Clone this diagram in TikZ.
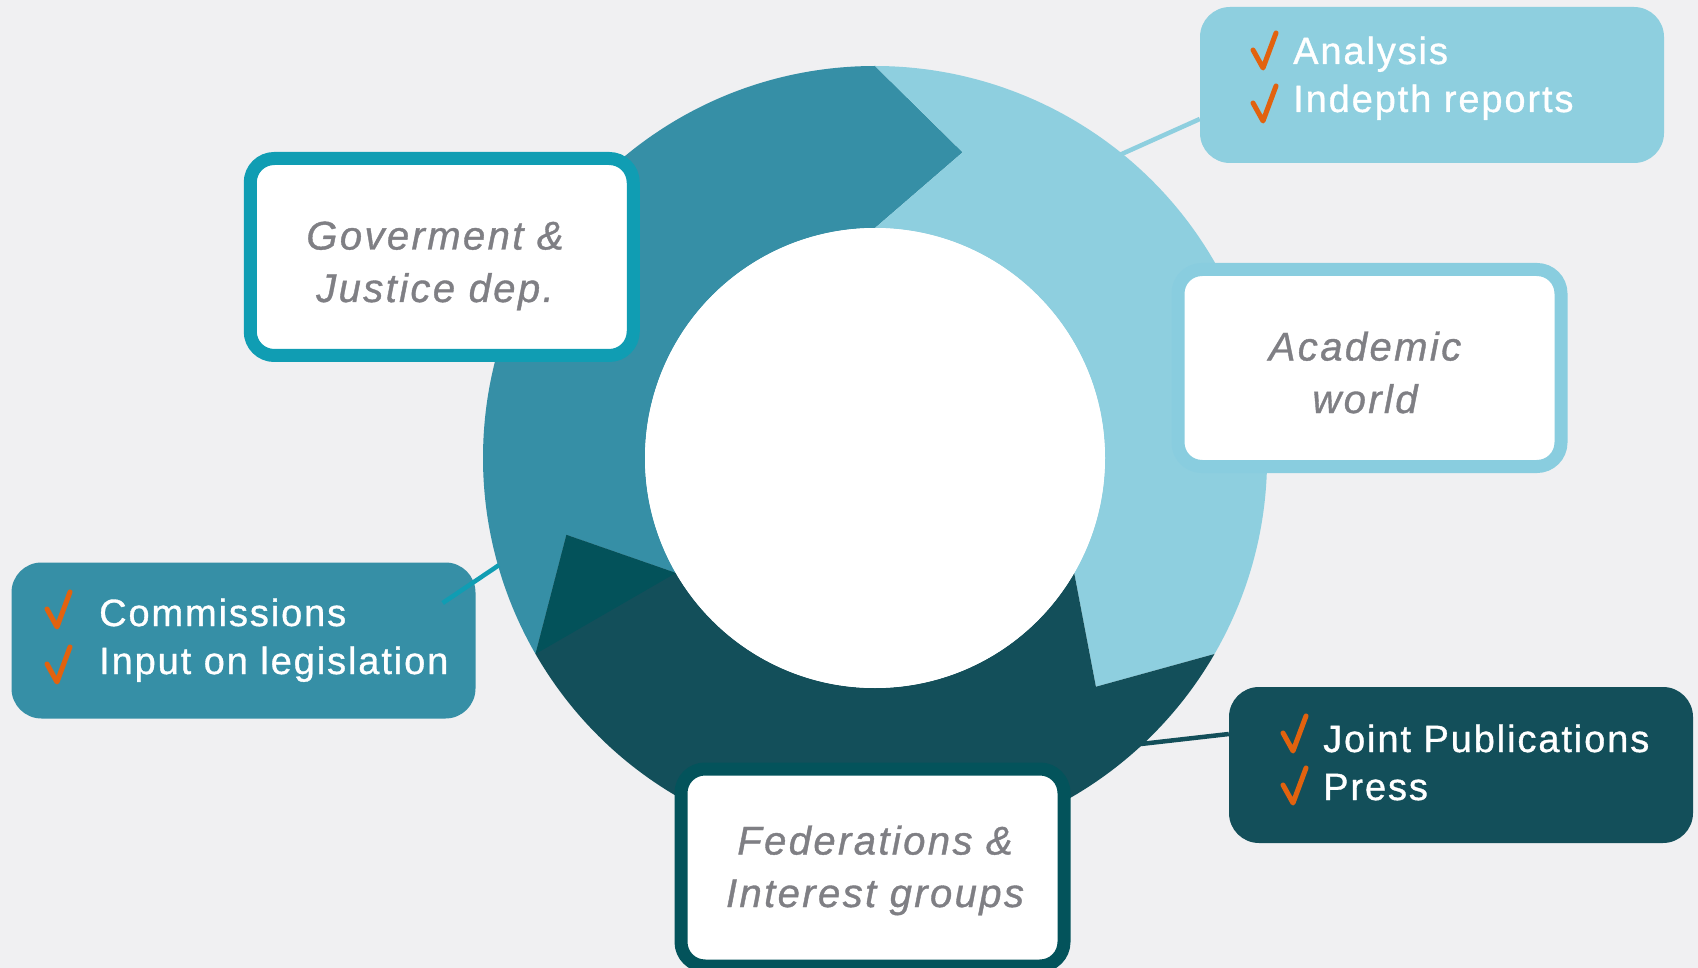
\documentclass[tikz,border=0pt]{standalone}
\usepackage{fontspec}
\setmainfont{Liberation Sans}
\newfontfamily\calloutfont[LetterSpace=5.0, FakeBold=0.9]{Liberation Sans}
\newfontfamily\labelfont[LetterSpace=6.0, FakeBold=0.9]{Liberation Sans}
\usetikzlibrary{calc}

\definecolor{bgc}{HTML}{F0F0F2}
\definecolor{ringmid}{HTML}{368FA6}
\definecolor{ringlight}{HTML}{8ECFDF}
\definecolor{ringdark}{HTML}{134F5A}
\definecolor{ringtip}{HTML}{03525A}
\definecolor{govline}{HTML}{109DB3}
\definecolor{acadline}{HTML}{89CDDF}
\definecolor{fedline}{HTML}{03535B}
\definecolor{labelgray}{HTML}{7F7F84}
\definecolor{tickorange}{HTML}{E2620E}

\tikzset{
  partybox/.style={draw, line width=13pt, fill=white, rounded corners=24pt,
    minimum width=383pt, minimum height=197pt, inner sep=0pt},
  % the base anchor of a two-line label sits on its last line
  partylabel/.style={text=labelgray, align=center, inner sep=0pt, anchor=base,
    font={\labelfont\itshape\fontsize{40}{52.5}\selectfont}},
  callout/.style={rounded corners=30pt, minimum width=464pt,
    minimum height=156pt, inner sep=0pt},
  callouttext/.style={text=white, align=left, inner sep=0pt, anchor=base west,
    font={\calloutfont\fontsize{38}{48}\selectfont}},
  link/.style={line width=4.5pt},
  checkmark/.pic={\draw[tickorange, line width=5pt, line cap=round,
    line join=round] (-10,-18) -- (0,0) -- (13,-35);}
}

\begin{document}
\begin{tikzpicture}[x=1pt, y=-1pt]
  \useasboundingbox (0,0) rectangle (1698,968);
  \fill[bgc] (0,0) rectangle (1698,968);

  % three-part cycle ring, each part ending in an arrow point
  \begin{scope}[shift={(875,458)}, yscale=-1]
    \fill[ringmid] (90:392) arc[start angle=90, end angle=210, radius=392]
      -- (194:318) -- (210:230) arc[start angle=210, end angle=90, radius=230]
      -- (74:318) -- cycle;
    \fill[ringlight] (-30:392) arc[start angle=-30, end angle=90, radius=392]
      -- (74:318) -- (90:230) arc[start angle=90, end angle=-30, radius=230]
      -- (-46:318) -- cycle;
    \fill[ringdark] (210:392) arc[start angle=210, end angle=330, radius=392]
      -- (314:318) -- (330:230) arc[start angle=330, end angle=210, radius=230]
      -- (194:318) -- cycle;
    \fill[ringtip] (210:392) -- (194:318) -- (210:230) -- cycle;
    \fill[white] (0,0) circle[radius=230];
    \coordinate (rA) at (51.2:388);
    \coordinate (rB) at (195.9:391);
    \coordinate (rC) at (-48:386);
  \end{scope}

  % stakeholder boxes
  \node[partybox, draw=govline] (gov) at (441.75,257) {};
  \node[partylabel] (govtxt) at (435,302) {Goverment \&\\Justice dep.};

  \node[partybox, draw=acadline] (acad) at (1369.5,368) {};
  \node[partylabel] (acadtxt) at (1365,413) {Academic\\world};

  \node[partybox, draw=fedline] (fed) at (872.5,867.5) {};
  \node[partylabel] (fedtxt) at (875,907) {Federations \&\\Interest groups};

  % callouts with checklists
  \node[callout, fill=ringlight] (anal) at (1432,85) {};
  \node[callouttext] (analtxt) at (1293,112) {Analysis\\Indepth reports};
  \pic at (1263,68) {checkmark};
  \pic at (1263,121) {checkmark};

  \node[callout, fill=ringmid] (comm) at (243.5,640.5) {};
  \node[callouttext] (commtxt) at (99,674) {Commissions\\Input on legislation};
  \pic at (57,627) {checkmark};
  \pic at (57,682) {checkmark};

  \node[callout, fill=ringdark] (press) at (1461,765) {};
  \node[callouttext] (presstxt) at (1323,800) {Joint Publications\\Press};
  \pic at (1293,751) {checkmark};
  \pic at (1293,803) {checkmark};

  % connectors from the ring to the callouts
  \draw[link, ringlight] (rA) -- ([yshift=-34pt]anal.west);
  \draw[link, govline] (rB) -- ([xshift=-33pt, yshift=37.5pt]comm.east);
  \draw[link, ringdark] (rC) -- ([yshift=31pt]press.west);
\end{tikzpicture}
\end{document}
